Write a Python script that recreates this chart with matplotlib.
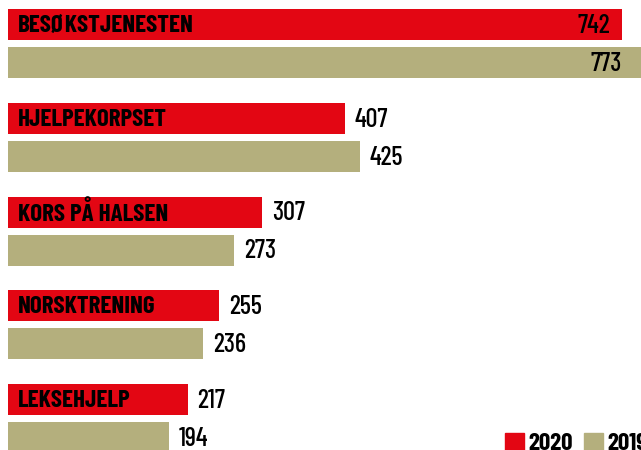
import matplotlib
matplotlib.use("Agg")
import matplotlib.pyplot as plt
from matplotlib.patches import Rectangle

categories = ["BESØKSTJENESTEN", "HJELPEKORPSET", "KORS PÅ HALSEN", "NORSKTRENING", "LEKSEHJELP"]
values_2020 = [742, 407, 307, 255, 217]
values_2019 = [773, 425, 273, 236, 194]
years = ["2020", "2019"]

red = "#E30613"
gold = "#B4AF7D"
plt.rcParams["font.family"] = ["Barlow Condensed", "DejaVu Sans"]

W, H = 641, 450
fig = plt.figure(figsize=(W / 100, H / 100), dpi=100)
ax = fig.add_axes([0, 0, 1, 1])
ax.set_xlim(-9.66, 764.5)
ax.set_ylim(H, 0)
ax.axis("off")

step = 93.75
bh = 31
fs = 18
for i, (cat, v20, v19) in enumerate(zip(categories, values_2020, values_2019)):
    y20 = 24.5 + step * i
    y19 = 62.5 + step * i
    ax.barh(y20, v20, height=bh, color=red)
    ax.barh(y19, v19, height=bh, color=gold)
    ax.text(12, y20 + 1.5, cat, fontsize=fs, fontweight="bold", color="black",
            va="center", ha="left")
    inside = v19 > 700
    for v, y in ((v20, y20), (v19, y19)):
        if inside:
            ax.text(min(v, 757) - 15, y + 1.5, str(v), fontsize=19, fontweight="medium",
                    va="center", ha="right")
        else:
            ax.text(v + 12, y + 1.5, str(v), fontsize=19, fontweight="medium",
                    va="center", ha="left")

# legend, bottom right (runs past the edge as in the original)
for x0, col, lab in ((505, red, years[0]), (584, gold, years[1])):
    fig.add_artist(Rectangle((x0 / W, -2 / H), 19 / W, 19 / H, color=col,
                             transform=fig.transFigure))
    fig.text((x0 + 23) / W, 0.5 / H, lab, fontsize=fs, fontweight="bold", va="baseline", ha="left")

fig.savefig("out.png", dpi=100)
